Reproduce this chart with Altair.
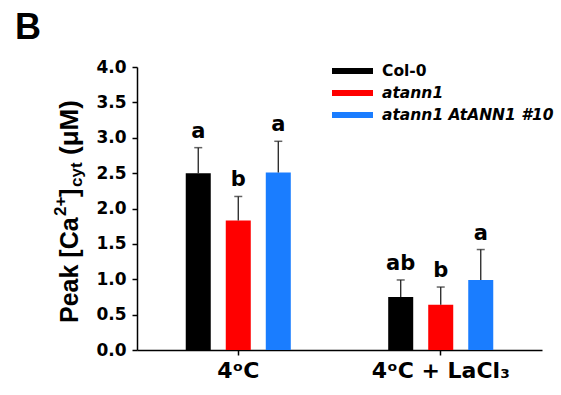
import altair as alt
import pandas as pd

# ---- data ----
conditions = ["4ᵒC", "4ᵒC + LaCl₃"]
series = ["Col-0", "atann1", "atann1 AtANN1 #10"]
colors = ["#000000", "#ff0000", "#1a7dff"]
means_4C = [2.50, 1.83, 2.51]
errs_4C = [0.36, 0.34, 0.44]
means_La = [0.75, 0.64, 0.99]
errs_La = [0.24, 0.25, 0.43]
letters_4C = ["a", "b", "a"]
letters_La = ["ab", "b", "a"]
y_ticks = [0.0, 0.5, 1.0, 1.5, 2.0, 2.5, 3.0, 3.5, 4.0]

rows = []
for cond, means, errs, lets in [
    (conditions[0], means_4C, errs_4C, letters_4C),
    (conditions[1], means_La, errs_La, letters_La),
]:
    for s, m, e, l in zip(series, means, errs, lets):
        rows.append({"condition": cond, "series": s, "mean": m,
                     "top": m + e, "letter": l})
df = pd.DataFrame(rows)

FONT = "DejaVu Sans"
TFONT = "Liberation Sans"

x_enc = alt.X("condition:N", sort=conditions,
              scale=alt.Scale(paddingInner=0.407, paddingOuter=0.2037),
              axis=alt.Axis(title=None, labelAngle=0, labelFont=FONT,
                            labelFontWeight="bold", labelFontSize=22,
                            labelColor="black", labelPadding=5,
                            domainColor="black", domainWidth=1.5,
                            tickColor="black", tickSize=5, tickWidth=1.5))
xo_enc = alt.XOffset("series:N", sort=series,
                     scale=alt.Scale(paddingInner=0.375, paddingOuter=0.1875))
y_scale = alt.Scale(domain=[0, 4], nice=False, zero=True)
y_axis = alt.Axis(title=None, values=y_ticks, format=".1f",
                  labelFont=FONT, labelFontWeight="bold",
                  labelFontSize=17, labelColor="black",
                  labelPadding=6, labelOverlap=False, grid=False,
                  domainColor="black", domainWidth=1.5,
                  tickColor="black", tickSize=5, tickWidth=1.5)
color_enc = alt.Color("series:N", sort=series,
                      scale=alt.Scale(domain=series, range=colors), legend=None)

base = alt.Chart(df)

bars = base.mark_bar().encode(
    x=x_enc, xOffset=xo_enc,
    y=alt.Y("mean:Q", scale=y_scale, axis=y_axis),
    color=color_enc,
)

err = base.mark_rule(color="#222222", strokeWidth=1.3).encode(
    x=x_enc, xOffset=xo_enc,
    y=alt.Y("mean:Q", scale=y_scale, axis=y_axis), y2="top:Q",
)
caps = base.mark_tick(color="#222222", size=8, thickness=1.5,
                      orient="horizontal").encode(
    x=x_enc, xOffset=xo_enc, y=alt.Y("top:Q", scale=y_scale, axis=y_axis),
)
letters = base.mark_text(font=FONT, fontWeight="bold", fontSize=21,
                         color="black", baseline="alphabetic", dy=-10).encode(
    x=x_enc, xOffset=xo_enc, y=alt.Y("top:Q", scale=y_scale, axis=y_axis),
    text="letter:N",
)

one = pd.DataFrame({"k": [0]})


def txt(text, x, y, size, font=FONT, angle=0, style="normal",
        align="left", baseline="alphabetic"):
    kw = dict(text=text, font=font, fontSize=size, fontWeight="bold",
              fontStyle=style, color="black", align=align, baseline=baseline)
    if angle:
        kw["angle"] = angle
    return alt.Chart(one).mark_text(**kw).encode(x=alt.value(x), y=alt.value(y))


# legend (manual so that only mutant names are italic)
legend_layers = []
row_y = [4, 26, 48]
for s, c, yy in zip(series, colors, row_y):
    legend_layers.append(
        alt.Chart(one).mark_rect(color=c).encode(
            x=alt.value(195), x2=alt.value(236),
            y=alt.value(yy - 3), y2=alt.value(yy + 3)))
    legend_layers.append(
        txt(s, 245, yy, 15.5, style="normal" if s == "Col-0" else "italic",
            baseline="middle"))

# y-axis title with super/subscripts
title_layers = [
    txt("Peak [Ca", -59, 256, 25, font=TFONT, angle=270),
    txt("2+", -71, 149, 17, font=TFONT, angle=270),
    txt("]", -59, 130, 25, font=TFONT, angle=270),
    txt("cyt", -55, 120, 17, font=TFONT, angle=270),
    txt("(μM)", -59, 88, 26, font=TFONT, angle=270),
]

panel = txt("B", -122, -28, 36, font=TFONT)

chart = alt.layer(
    bars, err, caps, letters, *legend_layers, *title_layers, panel
).properties(
    width=405, height=283,
    autosize=alt.AutoSizeParams(type="none"),
    padding={"left": 137, "top": 67, "right": 19, "bottom": 45},
).configure_view(stroke=None)

chart.save("out.html", embed_options={"renderer": "svg", "actions": False})
